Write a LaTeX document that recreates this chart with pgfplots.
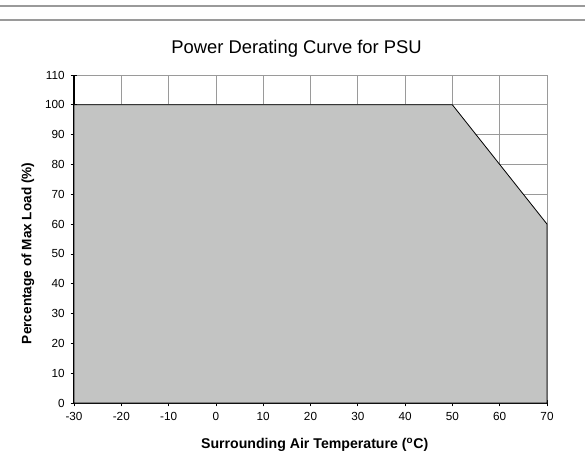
\documentclass[border=0pt]{standalone}
\usepackage{pgfplots}
\pgfplotsset{compat=1.18}
\usepackage{fontspec}
\setmainfont{Liberation Sans}
\definecolor{areagray}{HTML}{C3C4C3}
\definecolor{gridgray}{HTML}{9A9A9A}
\begin{document}
\begin{tikzpicture}
\useasboundingbox (0,0) rectangle (438.75pt,346.5pt);
\draw[gridgray, line width=1.2pt] (0,342pt) -- (438.75pt,342pt);
\draw[gridgray, line width=1.2pt] (0,331.5pt) -- (438.75pt,331.5pt);
\begin{axis}[
  at={(55.5pt,44.25pt)}, anchor=south west,
  scale only axis, width=354.75pt, height=246pt,
  xmin=-30, xmax=70, ymin=0, ymax=110,
  xtick={-30,-20,...,70}, ytick={0,10,...,110},
  axis lines*=left,
  axis line style={black, line width=0.8pt, -},
  grid=major,
  major grid style={gridgray, line width=0.6pt},
  tick align=center,
  major tick length=5pt,
  tick style={black, line width=0.6pt},
  tick label style={font=\fontsize{8.8}{10}\selectfont},
  /pgf/number format/assume math mode=true,
  xticklabel style={yshift=-1pt},
  yticklabel style={xshift=-1pt},
  clip=false,
]
\addplot[fill=areagray, draw=black, line width=0.6pt] coordinates {(-30,0) (-30,100) (50,100) (70,60) (70,0)} -- cycle;
\end{axis}
\node[font=\fontsize{13.8}{16}\selectfont] at (222.4pt,310pt) {Power Derating Curve for PSU};
\node[font=\bfseries\fontsize{10.2}{12}\selectfont, rotate=90] at (21pt,156.5pt) {Percentage of Max Load (\%)};
\node[font=\bfseries\fontsize{10.6}{12}\selectfont] at (236pt,13pt) {Surrounding Air Temperature (\textsuperscript{o}C)};
\end{tikzpicture}
\end{document}
